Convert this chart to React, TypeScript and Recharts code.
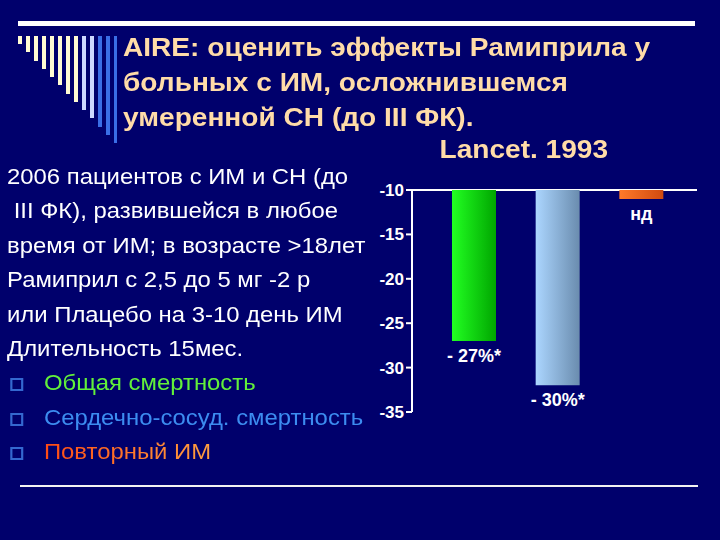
import React from "react";
import { BarChart, Bar, XAxis, YAxis, Cell, LabelList } from "recharts";

const categories = ["Общая смертность", "Сердечно-сосуд. смертность", "Повторный ИМ"];
const changeValues = [-27, -32, -11];
const barLabels = ["- 27%*", "- 30%*", "нд"];
const yTicks = [-10, -15, -20, -25, -30, -35];

const titleLines = [
  "AIRE: оценить эффекты Рамиприла у",
  "больных с ИМ, осложнившемся",
  "умеренной СН (до III ФК).",
];
const titleSource = "Lancet. 1993";

const introLines = [
  "2006 пациентов с ИМ и СН (до",
  "\u00a0III ФК), развившейся в любое",
  "время от ИМ; в возрасте >18лет",
  "Рамиприл с 2,5 до 5 мг -2 р",
  "или Плацебо на 3-10 день ИМ",
  "Длительность 15мес.",
];

const BG = "#00006c";
const FONT = "'Liberation Sans', Arial, sans-serif";
const GRADIENTS = [
  { id: "gGreen", from: "#22ff22", to: "#00a600" },
  { id: "gBlue", from: "#acd6ff", to: "#6a8cae" },
  { id: "gOrange", from: "#ff7a2a", to: "#d04a10" },
];
const BULLET_STYLES: React.CSSProperties[] = [
  { color: "#62f03a" },
  { color: "#3c8cf0" },
  {
    background: "linear-gradient(90deg, #ff4a14, #ffa040)",
    WebkitBackgroundClip: "text",
    backgroundClip: "text",
    color: "transparent",
  },
];

const data = categories.map((name, i) => ({
  name,
  value: changeValues[i],
  label: barLabels[i],
}));

// tick marks sit on the category boundaries, not the centres
function boundaryTick(dir: number) {
  return (props: any) => {
    const { x, y, payload } = props;
    const off = payload?.offset ?? 42;
    return (
      <line x1={x + off} x2={x + off} y1={y} y2={y + dir * 4} stroke="#fff" strokeWidth={2} />
    );
  };
}

function renderBarLabel(props: any) {
  const vb = props.viewBox ?? props;
  const bottom = Math.max(vb.y, vb.y + vb.height);
  return (
    <text
      x={vb.x + vb.width / 2}
      y={bottom + 21}
      textAnchor="middle"
      fill="#fff"
      fontSize={18}
      fontWeight="bold"
      fontFamily={FONT}
    >
      {props.value}
    </text>
  );
}

function Decoration() {
  const bars = Array.from({ length: 13 }, (_, i) => i);
  return (
    <>
      <div style={{ position: "absolute", left: 18, top: 21, width: 677, height: 5, background: "#fff" }} />
      {bars.map((i) => (
        <div
          key={i}
          style={{
            position: "absolute",
            left: 18 + i * 8,
            top: 36,
            width: i === 12 ? 3 : 4,
            height: 8 + i * 8.25,
            background: i < 8 ? "#fffbd2" : i < 10 ? "#cdd8ff" : "#3a6ee6",
          }}
        />
      ))}
      <div style={{ position: "absolute", left: 20, top: 485, width: 678, height: 2, background: "#f2f2f2" }} />
    </>
  );
}

export default function App() {
  return (
    <div
      style={{
        position: "absolute",
        left: 0,
        top: 0,
        width: 720,
        height: 540,
        background: BG,
        overflow: "hidden",
        fontFamily: FONT,
      }}
    >
      <Decoration />

      <div
        style={{
          position: "absolute",
          left: 123,
          top: 30,
          fontSize: 26,
          fontWeight: "bold",
          lineHeight: "35px",
          color: "#ffdca8",
          whiteSpace: "nowrap",
          transform: "scaleX(1.08)",
          transformOrigin: "0 0",
        }}
      >
        {titleLines.map((t) => (
          <div key={t}>{t}</div>
        ))}
      </div>
      <div
        style={{
          position: "absolute",
          right: 112,
          top: 132,
          fontSize: 26,
          fontWeight: "bold",
          lineHeight: "35px",
          color: "#ffdca8",
          whiteSpace: "nowrap",
          transform: "scaleX(1.08)",
          transformOrigin: "100% 0",
        }}
      >
        {titleSource}
      </div>

      <div
        style={{
          position: "absolute",
          left: 7,
          top: 160,
          fontSize: 22,
          lineHeight: "34.4px",
          color: "#fff",
          whiteSpace: "nowrap",
          transform: "scaleX(1.085)",
          transformOrigin: "0 0",
        }}
      >
        {introLines.map((t) => (
          <div key={t}>{t}</div>
        ))}
        {categories.map((c, i) => (
          <div key={c} style={{ position: "relative", paddingLeft: 34 }}>
            <span
              style={{
                position: "absolute",
                left: 3,
                top: 12,
                width: 8,
                height: 9,
                border: "2px solid #3468d0",
              }}
            />
            <span style={BULLET_STYLES[i]}>{c}</span>
          </div>
        ))}
      </div>

      <div style={{ position: "absolute", left: 412, top: 189, width: 285, height: 2, background: "#fff" }} />

      <div style={{ position: "absolute", left: 352, top: 170 }}>
        <BarChart
          width={348}
          height={260}
          data={data}
          margin={{ top: 20, right: 37, bottom: 18, left: 0 }}
          barCategoryGap={0}
          barGap={-4}
        >
          <defs>
            {GRADIENTS.map((g) => (
              <linearGradient key={g.id} id={g.id} x1="0" y1="0" x2="1" y2="0">
                <stop offset="0%" stopColor={g.from} />
                <stop offset="100%" stopColor={g.to} />
              </linearGradient>
            ))}
          </defs>
          <XAxis
            dataKey="name"
            height={0}
            interval={0}
            axisLine={{ stroke: "#fff", strokeWidth: 2 }}
            tickLine={false}
            tickSize={0}
            tickMargin={0}
            tick={boundaryTick(1)}
          />
          <XAxis
            xAxisId="top"
            dataKey="name"
            orientation="top"
            height={0}
            interval={0}
            axisLine={false}
            tickLine={false}
            tickSize={0}
            tickMargin={0}
            tick={boundaryTick(1)}
          />
          <YAxis
            domain={[-35, -10]}
            ticks={yTicks}
            interval={0}
            width={60}
            axisLine={{ stroke: "#fff", strokeWidth: 2 }}
            tickLine={{ stroke: "#fff", strokeWidth: 2 }}
            tickSize={6}
            tickMargin={2}
            tick={{ fill: "#fff", fontSize: 17, fontWeight: "bold", fontFamily: FONT }}
          />
          <Bar dataKey="spacer" fill="none" isAnimationActive={false} />
          <Bar dataKey="value" isAnimationActive={false}>
            {data.map((d, i) => (
              <Cell key={d.name} fill={`url(#${GRADIENTS[i].id})`} />
            ))}
            <LabelList dataKey="label" content={renderBarLabel} />
          </Bar>
        </BarChart>
      </div>
    </div>
  );
}
